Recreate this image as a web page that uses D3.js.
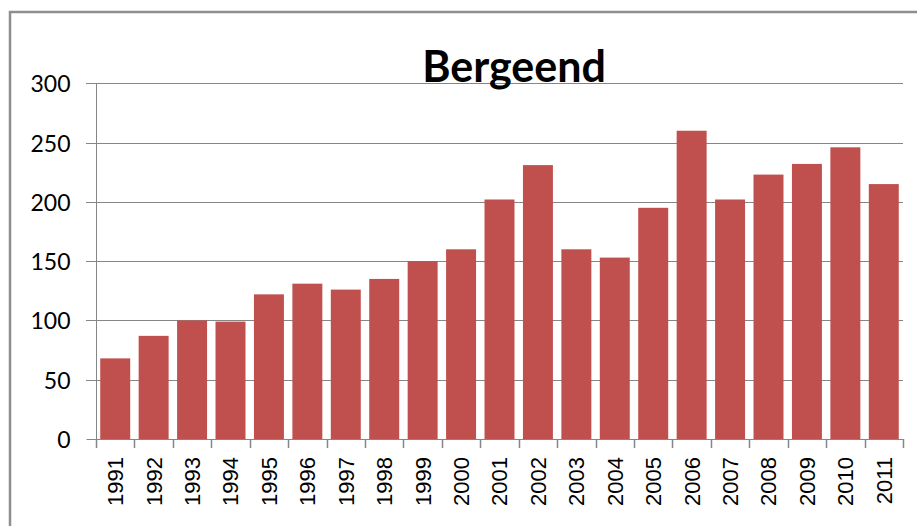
<!DOCTYPE html>
<html>
<head>
<meta charset="utf-8">
<script src="https://cdn.jsdelivr.net/npm/d3@7"></script>
<style>
  html, body { margin: 0; padding: 0; background: #fff; }
  svg { display: block; }
</style>
</head>
<body>
<svg id="chart" width="917" height="526"></svg>
<script>
const title = "Bergeend";
const years = ["1991","1992","1993","1994","1995","1996","1997","1998","1999","2000","2001","2002","2003","2004","2005","2006","2007","2008","2009","2010","2011"];
const counts = [68, 87, 100, 99, 122, 131, 126, 135, 150, 160, 202, 231, 160, 153, 195, 260, 202, 223, 232, 246, 215];
const yTicks = [0, 50, 100, 150, 200, 250, 300];

(function () {
const svg = d3.select("#chart");
const plotL = 96, plotR = 903, plotT = 83.3, plotB = 439;
const axisColor = "#868686";

// outer chart border
svg.append("rect")
  .attr("x", 10).attr("y", 12)
  .attr("width", 1000).attr("height", 1000)
  .attr("fill", "none").attr("stroke", "#8e8e8e").attr("stroke-width", 2.5);

const x = d3.scaleBand().domain(years).range([plotL, plotR]).paddingInner(0.22).paddingOuter(0.11);
const y = d3.scaleLinear().domain([0, 300]).range([plotB, plotT]);

// gridlines
svg.append("g")
  .selectAll("line").data(yTicks.filter(d => d > 0)).join("line")
  .attr("x1", plotL - 10).attr("x2", plotR)
  .attr("y1", d => Math.round(y(d)) + 0.5).attr("y2", d => Math.round(y(d)) + 0.5)
  .attr("stroke", axisColor).attr("stroke-width", 1);

// bars
svg.append("g")
  .selectAll("rect").data(years).join("rect")
  .attr("x", d => x(d))
  .attr("width", x.bandwidth())
  .attr("y", (d, i) => y(counts[i]))
  .attr("height", (d, i) => y(0) - y(counts[i]))
  .attr("fill", "#C0504D");

// y axis
const yAxis = d3.axisLeft(y).tickValues(yTicks).tickSize(10).tickPadding(16);
const gy = svg.append("g").attr("transform", `translate(${plotL + 0.5},0)`).call(yAxis);
gy.select(".domain").attr("stroke", axisColor).attr("d", `M-10,${Math.round(y(300))+0.5}H0V${Math.round(y(0))+0.5}`);
gy.selectAll(".tick line").attr("stroke", axisColor);
gy.selectAll(".tick").attr("transform", d => `translate(0,${Math.round(y(d)) + 0.5})`);
gy.selectAll("text")
  .attr("font-family", "Lato, 'Open Sans', sans-serif")
  .attr("font-size", "23px")
  .attr("fill", "#000")
  .attr("dy", "0.36em");

// x axis: ticks at category boundaries
const bounds = d3.range(years.length + 1).map(i => plotL + (plotR - plotL) * i / years.length);
const gx = svg.append("g");
gx.append("line")
  .attr("x1", plotL).attr("x2", plotR)
  .attr("y1", Math.round(y(0)) + 0.5).attr("y2", Math.round(y(0)) + 0.5)
  .attr("stroke", axisColor);
gx.selectAll("line.tk").data(bounds).join("line").attr("class", "tk")
  .attr("x1", d => Math.round(d) + 0.5).attr("x2", d => Math.round(d) + 0.5)
  .attr("y1", Math.round(y(0))).attr("y2", Math.round(y(0)) + 9)
  .attr("stroke", axisColor).attr("stroke-width", 1.5);
gx.selectAll("text").data(years).join("text")
  .attr("transform", d => `translate(${x(d) + x.bandwidth() / 2},457) rotate(-90)`)
  .attr("text-anchor", "end")
  .attr("dy", "0.36em")
  .attr("font-family", "'Liberation Sans', Arial, sans-serif")
  .attr("font-size", "22px")
  .attr("fill", "#000")
  .text(d => d);

// title
svg.append("text")
  .attr("x", 514).attr("y", 81.5)
  .attr("text-anchor", "middle")
  .attr("font-family", "Lato, 'Open Sans', sans-serif")
  .attr("font-weight", "bold")
  .attr("font-size", "43px")
  .attr("fill", "#000")
  .text(title);
})();
</script>
</body>
</html>
